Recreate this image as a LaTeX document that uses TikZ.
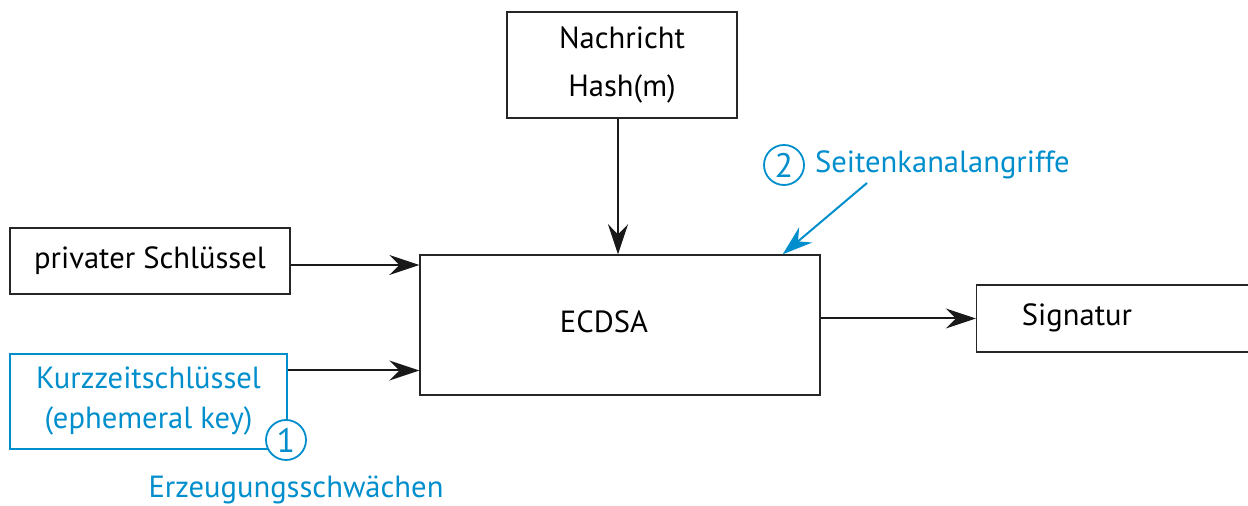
\documentclass[tikz,border=0pt]{standalone}
\usepackage{fontspec}
\setmainfont{PT Sans}
\usetikzlibrary{arrows.meta,calc}
\definecolor{bsiblue}{RGB}{0,142,204}
\begin{document}
\begin{tikzpicture}[x=0.5pt,y=-0.5pt,
  font=\fontsize{15.3}{18.5}\selectfont,
  box/.style={draw=black!85,line width=0.7pt,rectangle,inner sep=0pt},
  flow/.style={draw=black!90,line width=1pt,-{Stealth[length=15pt,width=10pt,inset=5pt]}},
  note/.style={text=bsiblue},
  numcirc/.style={circle,draw=bsiblue,line width=0.9pt,fill=white,minimum size=20pt,inner sep=0pt,text=bsiblue,font=\fontsize{17}{20}\selectfont},
  hint/.style={draw=bsiblue,line width=1pt,-{Stealth[length=15pt,width=10pt,inset=5pt]}}]
\useasboundingbox (0,0) rectangle (1248,506);
% input boxes
\node[box,minimum width=115pt,minimum height=53pt,align=center] (nach) at (622,65)
  {Nachricht\\[5.5pt]Hash(m)};
\node[box,minimum width=140pt,minimum height=33pt] (priv) at (150,261) {\raisebox{1pt}{privater Schlüssel}};
\node[box,draw=bsiblue,line width=0.7pt,minimum width=138.5pt,minimum height=47.5pt,align=center,text=bsiblue]
  (kurz) at (148.5,401.5) {Kurzzeitschlüssel\\[1.5pt](ephemeral key)};
% central block and output
\node[box,minimum width=200pt,minimum height=70pt] (ecdsa) at (620,325) {};
\node (ecdsatext) at (604,322) {ECDSA};
\node[box,minimum width=137pt,minimum height=33.5pt] (sig) at (1113.5,318.5) {};
\node (sigtext) at (1077,318) {Signatur};
% data flow
\draw[flow] ($(priv.east)+(0,4)$) -- ($(priv.east -| ecdsa.west)+(0,4)$);
\draw[flow] ($(kurz.east)+(0,-31)$) -- ($(kurz.east -| ecdsa.west)+(0,-31)$);
\draw[flow] ([xshift=-2pt]nach.south) -- ([xshift=-2pt]nach.south |- ecdsa.north);
\draw[flow] (ecdsa.east |- sig.west) -- (sig.west);
% weak points
\node[numcirc] (c1) at (286,440) {1};
\node[note] (erz) at (296,490) {Erzeugungsschwächen};
\node[numcirc] (c2) at (784,165) {2};
\node[note,anchor=west] (sk) at (808,165) {Seitenkanalangriffe};
\coordinate (skfoot) at (867,183);
\draw[hint] (skfoot) -- ($(ecdsa.north east)+(-38,0)$);
\end{tikzpicture}
\end{document}
